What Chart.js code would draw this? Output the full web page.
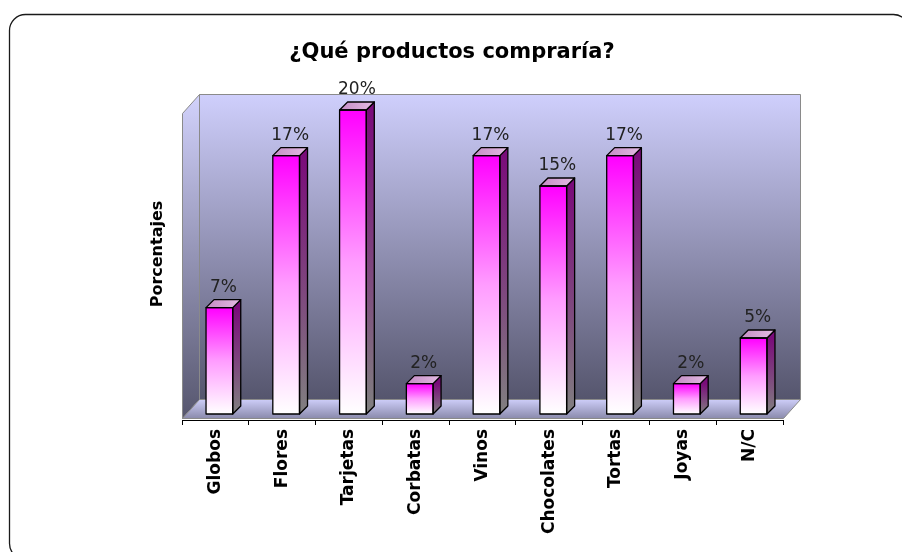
<!DOCTYPE html>
<html>

<head>
    <meta charset="utf-8">
    <title>¿Qué productos compraría?</title>
    <script src="https://cdn.jsdelivr.net/npm/chart.js"></script>
    <style>
        body {
            margin: 0;
            background: #fff;
        }

        canvas {
            display: block;
        }
    </style>
</head>

<body>
    <canvas id="myChart" width="902" height="552"></canvas>

    <script>
        // Chart data
        const titleText = '¿Qué productos compraría?';
        const yAxisTitle = 'Porcentajes';
        const categories = ['Globos', 'Flores', 'Tarjetas', 'Corbatas', 'Vinos', 'Chocolates', 'Tortas', 'Joyas', 'N/C'];
        const percentages = [7, 17, 20, 2, 17, 15, 17, 2, 5];
        const axisMax = 20;

        const FONT = '"DejaVu Sans", Verdana, sans-serif';

        // 3D look: depth of the walls and of each bar
        const WALL_DX = 17, WALL_DY = 19;
        const BAR_DX = 8, BAR_DY = 8;
        const BAR_SHIFT_X = 4, BAR_SHIFT_Y = -6;

        function poly(ctx, pts) {
            ctx.beginPath();
            ctx.moveTo(pts[0], pts[1]);
            for (let i = 2; i < pts.length; i += 2) ctx.lineTo(pts[i], pts[i + 1]);
            ctx.closePath();
        }

        function roundedRect(ctx, x, y, w, h, r) {
            ctx.beginPath();
            ctx.moveTo(x + r, y);
            ctx.arcTo(x + w, y, x + w, y + h, r);
            ctx.arcTo(x + w, y + h, x, y + h, r);
            ctx.arcTo(x, y + h, x, y, r);
            ctx.arcTo(x, y, x + w, y, r);
            ctx.closePath();
        }

        // white page, rounded frame and the two titles
        const framePlugin = {
            id: 'frame',
            beforeDraw(chart) {
                const { ctx, chartArea: a } = chart;
                ctx.save();
                ctx.fillStyle = '#fff';
                ctx.fillRect(0, 0, chart.width, chart.height);
                roundedRect(ctx, 9.5, 14.5, 900, 545, 16);
                ctx.strokeStyle = '#1a1a1a';
                ctx.lineWidth = 1.3;
                ctx.stroke();

                ctx.fillStyle = '#000';
                ctx.textAlign = 'center';
                ctx.textBaseline = 'middle';
                ctx.font = 'bold 21px ' + FONT;
                ctx.fillText(titleText, chart.width / 2 + 1, a.top - 63);

                ctx.translate(a.left - 24, (a.top + a.bottom) / 2 - 14);
                ctx.rotate(-Math.PI / 2);
                ctx.font = 'bold 16px ' + FONT;
                ctx.fillText(yAxisTitle, 0, 0);
                ctx.restore();
            }
        };

        // back wall, side wall and floor
        const wallsPlugin = {
            id: 'walls',
            beforeDraw(chart) {
                const { ctx, chartArea: a } = chart;
                const L = a.left + 0.5, R = a.right + 0.5;
                const T = a.top - 2.5, B = a.bottom - 1.5;
                const dx = WALL_DX, dy = WALL_DY;
                ctx.save();
                ctx.lineWidth = 1;
                ctx.strokeStyle = '#8a8a8a';

                let g = ctx.createLinearGradient(0, T - dy, 0, B - dy);
                g.addColorStop(0, '#cfcffc');
                g.addColorStop(1, '#55556d');
                ctx.fillStyle = g;
                ctx.beginPath();
                ctx.rect(L + dx, T - dy, R - L, B - T);
                ctx.fill();
                ctx.stroke();

                g = ctx.createLinearGradient(0, T - dy, 0, B);
                g.addColorStop(0, '#d2d2fc');
                g.addColorStop(1, '#56566e');
                ctx.fillStyle = g;
                poly(ctx, [L, T, L + dx, T - dy, L + dx, B - dy, L, B]);
                ctx.fill();
                ctx.stroke();

                g = ctx.createLinearGradient(0, B - dy, 0, B);
                g.addColorStop(0, '#cdcdf8');
                g.addColorStop(1, '#8a8aac');
                ctx.fillStyle = g;
                poly(ctx, [L, B, R, B, R + dx, B - dy, L + dx, B - dy]);
                ctx.fill();
                ctx.stroke();
                ctx.restore();
            }
        };

        // side and top faces of the bars, plus value labels
        const bars3dPlugin = {
            id: 'bars3d',
            beforeDatasetsDraw(chart) {
                chart.ctx.save();
                chart.ctx.translate(BAR_SHIFT_X, BAR_SHIFT_Y);
            },
            afterDatasetsDraw(chart) {
                const ctx = chart.ctx;
                const meta = chart.getDatasetMeta(0);
                ctx.lineWidth = 1.3;
                ctx.strokeStyle = '#000';
                ctx.lineJoin = 'round';
                meta.data.forEach((bar, i) => {
                    const left = bar.x - bar.width / 2;
                    const right = bar.x + bar.width / 2;
                    const top = bar.y, bottom = bar.base;

                    let g = ctx.createLinearGradient(0, top, 0, bottom);
                    g.addColorStop(0, '#7a0c7a');
                    g.addColorStop(0.55, '#7e4a7e');
                    g.addColorStop(1, '#808080');
                    ctx.fillStyle = g;
                    poly(ctx, [right, top, right + BAR_DX, top - BAR_DY, right + BAR_DX, bottom - BAR_DY, right, bottom]);
                    ctx.fill();
                    ctx.stroke();

                    g = ctx.createLinearGradient(left, 0, right + BAR_DX, 0);
                    g.addColorStop(0, '#c48cc4');
                    g.addColorStop(1, '#e4bce4');
                    ctx.fillStyle = g;
                    poly(ctx, [left, top, left + BAR_DX, top - BAR_DY, right + BAR_DX, top - BAR_DY, right, top]);
                    ctx.fill();
                    ctx.stroke();

                    ctx.strokeRect(left, top, right - left, bottom - top);

                    ctx.fillStyle = '#222';
                    ctx.font = '17px ' + FONT;
                    ctx.textAlign = 'center';
                    ctx.textBaseline = 'alphabetic';
                    ctx.fillText(percentages[i] + '%', bar.x + BAR_DX / 2, top - BAR_DY - 8);
                });
                ctx.restore();
            }
        };

        function barFill(context) {
            const chart = context.chart;
            if (!chart.chartArea) return '#ff00ff';
            const y = chart.scales.y;
            const top = y.getPixelForValue(context.raw);
            const base = y.getPixelForValue(0);
            const g = chart.ctx.createLinearGradient(0, top, 0, base);
            g.addColorStop(0, '#ff00ff');
            g.addColorStop(0.5, '#ff9cff');
            g.addColorStop(1, '#ffffff');
            return g;
        }

        const ctx = document.getElementById('myChart').getContext('2d');

        const myChart = new Chart(ctx, {
            type: 'bar',
            data: {
                labels: categories,
                datasets: [{
                    label: yAxisTitle,
                    data: percentages,
                    backgroundColor: barFill,
                    borderColor: '#000',
                    borderWidth: 0,
                    barPercentage: 0.4,
                    categoryPercentage: 1,
                    clip: false
                }]
            },
            options: {
                responsive: false,
                animation: false,
                layout: {
                    padding: { top: 116, left: 182, right: 119, bottom: 0 }
                },
                plugins: {
                    legend: { display: false },
                    tooltip: { enabled: false }
                },
                scales: {
                    x: {
                        grid: {
                            drawOnChartArea: false,
                            drawTicks: true,
                            tickLength: 5,
                            color: '#000',
                            offset: true
                        },
                        border: { display: true, color: '#000', width: 1 },
                        ticks: {
                            autoSkip: false,
                            minRotation: 90,
                            maxRotation: 90,
                            padding: 4,
                            color: '#000',
                            font: { family: FONT, size: 17, weight: 'bold' }
                        },
                        afterFit(scale) {
                            scale.height = 132;
                        }
                    },
                    y: {
                        display: false,
                        min: 0,
                        max: axisMax
                    }
                }
            },
            plugins: [framePlugin, wallsPlugin, bars3dPlugin]
        });
    </script>
</body>

</html>
